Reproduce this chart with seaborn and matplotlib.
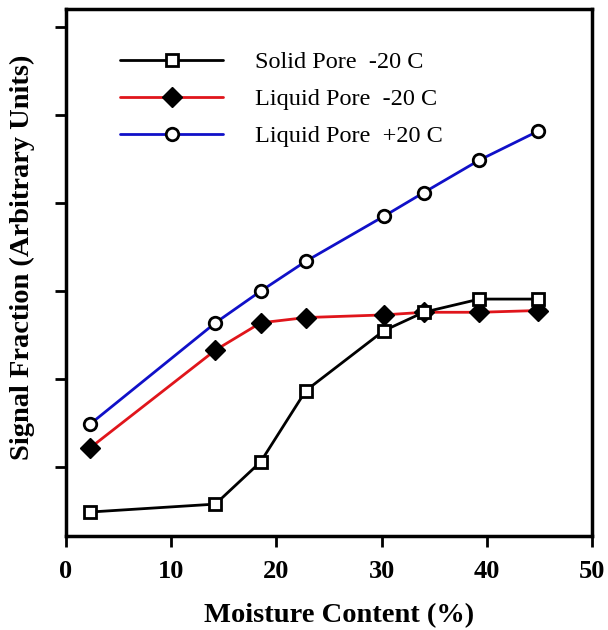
import seaborn as sns
from matplotlib import pyplot as plt
import pandas as pd
import numpy as np

# Moisture content (%)
moisture = [2.3, 14.2, 18.5, 22.8, 30.2, 34.0, 39.3, 44.9]

# Signal fraction, arbitrary units (one tick = 1 unit)
solid_m20 = [-0.51, -0.42, 0.06, 0.87, 1.55, 1.76, 1.91, 1.91]
liquid_m20 = [0.22, 1.33, 1.64, 1.70, 1.73, 1.76, 1.76, 1.78]
liquid_p20 = [0.49, 1.64, 2.00, 2.34, 2.85, 3.12, 3.49, 3.82]

labels = ['Solid Pore  -20 C', 'Liquid Pore  -20 C', 'Liquid Pore  +20 C']

sns.set_style('ticks')
plt.rcParams['font.family'] = ['Liberation Serif', 'DejaVu Serif']
# everything in plain black like the original
plt.rcParams.update({'text.color': 'black', 'axes.labelcolor': 'black',
                     'axes.edgecolor': 'black', 'xtick.color': 'black',
                     'ytick.color': 'black'})

fig = plt.figure(figsize=(6.08, 6.30), dpi=100)
ax = fig.add_axes([0.1086, 0.149, 0.8651, 0.8365])

# Solid pore -20 C
sns.lineplot(x=moisture, y=solid_m20, ax=ax, color='black', lw=2, marker='s',
             markersize=9, markerfacecolor='white', markeredgecolor='black',
             markeredgewidth=2, label=labels[0], zorder=4)
# Liquid pore -20 C
sns.lineplot(x=moisture, y=liquid_m20, ax=ax, color='#e0151b', lw=2, marker='D',
             markersize=10, markerfacecolor='black', markeredgecolor='black',
             markeredgewidth=1, label=labels[1], zorder=3)
# Liquid pore +20 C
sns.lineplot(x=moisture, y=liquid_p20, ax=ax, color='#1010c8', lw=2, marker='o',
             markersize=9, markerfacecolor='white', markeredgecolor='black',
             markeredgewidth=2, label=labels[2], zorder=3)

ax.set_xlim(0, 50)
ax.set_ylim(-0.784, 5.205)
ax.set_xticks([0, 10, 20, 30, 40, 50])
ax.set_yticks([0, 1, 2, 3, 4, 5])
ax.set_yticklabels([])
for lbl in ax.get_xticklabels():
    lbl.set_fontweight('bold')
ax.tick_params(axis='both', direction='out', length=8, width=2, labelsize=19, pad=9,
               colors='black')

for s in ax.spines.values():
    s.set_linewidth(2.5)
    s.set_color('black')
    s.set_visible(True)

ax.set_xlabel('Moisture Content (%)', fontsize=20.5, fontweight='bold')
ax.set_ylabel('Signal Fraction (Arbitrary Units)', fontsize=20.5, fontweight='bold')
ax.xaxis.label.set_va('center')
ax.yaxis.label.set_va('center')
ax.xaxis.set_label_coords(0.519, -0.150)
ax.yaxis.set_label_coords(-0.0837, 0.529)

leg = ax.legend(loc='upper left', bbox_to_anchor=(0.1027, 0.920), frameon=False,
                fontsize=17.5, handlelength=4.24, handletextpad=1.32,
                labelspacing=0.62, borderpad=0, borderaxespad=0)
for t in leg.get_texts():
    t.set_color('black')

fig.savefig('out.png', dpi=100)
